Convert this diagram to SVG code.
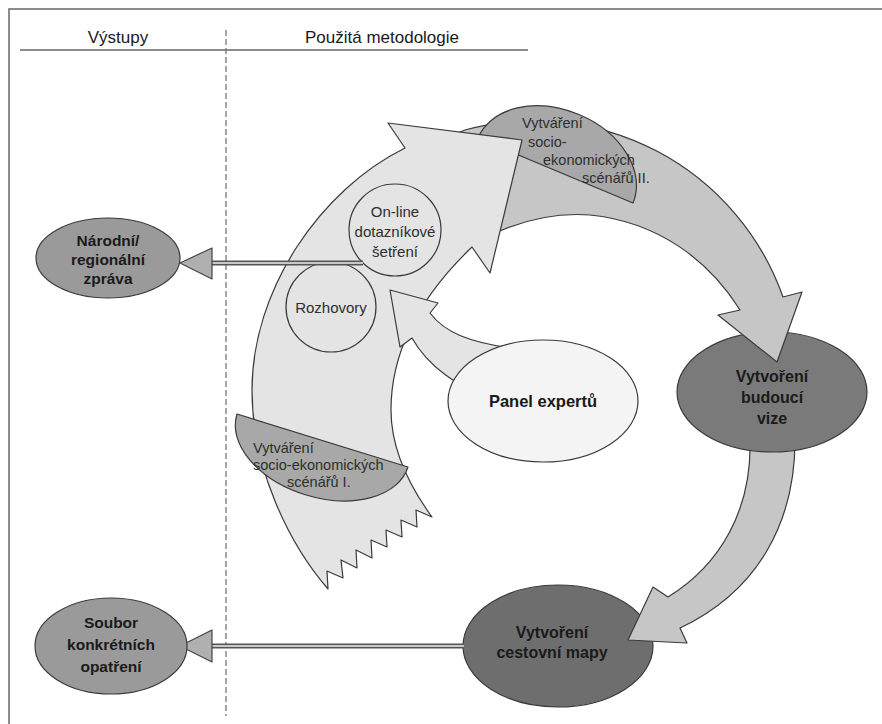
<svg xmlns="http://www.w3.org/2000/svg" width="882" height="724" viewBox="0 0 882 724">
<defs>
<style>
.ln{stroke:#3a3a3a;stroke-width:1.2;stroke-linejoin:round}
.big{fill:#e4e4e4}
.band{fill:#c6c6c6}
.semi{fill:#a8a8a8}
.bt{font-family:"Liberation Sans",Arial,sans-serif;font-weight:bold;fill:#1a1a1a;text-anchor:middle}
.rt{font-family:"Liberation Sans",Arial,sans-serif;fill:#2e2e2e;text-anchor:middle;font-size:15px}
.st{font-family:"Liberation Sans",Arial,sans-serif;fill:#2e2e2e;font-size:14.5px}
.hd{font-family:"Liberation Sans",Arial,sans-serif;fill:#1a1a1a;font-size:17px;text-anchor:middle}
.dl1{stroke:#555;stroke-width:5;fill:none}
.dl2{stroke:#c8c8c8;stroke-width:2;fill:none}
.ah{fill:#b0b0b0;stroke:#444;stroke-width:1.2;stroke-linejoin:round}
</style>
</defs>
<rect x="0" y="0" width="882" height="724" fill="#fff"/>
<rect x="9" y="9" width="890" height="730" fill="#fff" stroke="#666" stroke-width="1.5"/>
<g id="header">
<line x1="20" y1="50" x2="528" y2="50" stroke="#666" stroke-width="1.5"/>
<line x1="226" y1="30" x2="226" y2="716" stroke="#777" stroke-width="1.3" stroke-dasharray="6 3"/>
<text class="hd" x="118" y="43">Výstupy</text>
<text class="hd" x="382" y="43">Použitá metodologie</text>
</g>

<g id="cestovni-mapa">
<ellipse class="ln" cx="558" cy="646" rx="95" ry="61" fill="#6e6e6e"/>
<text class="bt" font-size="16" x="552" y="638">Vytvoření</text>
<text class="bt" font-size="16" x="552" y="658">cestovní mapy</text>
</g>

<g id="connectors">
<path class="ln band" d="M750,440 L795,440 C795,520 760,590 680,628 L687,643 L628,640 L653,587 L668,597 C720,565 752,510 750,440 Z" fill="#c2c2c2"/>
</g>

<g id="budouci-vize">
<ellipse class="ln" cx="772" cy="392" rx="95" ry="60" fill="#7a7a7a"/>
<text class="bt" font-size="16" x="772" y="382">Vytvoření</text>
<text class="bt" font-size="16" x="772" y="403">budoucí</text>
<text class="bt" font-size="16" x="772" y="424">vize</text>
</g>

<g id="arrow-band-top">
<path class="ln band" d="M440,140 L465,130 A264,264 0 0 1 783,297 L802,292 L777,362 L718,315 L740,310 C710,262 660,222 590,215 C550,212 515,222 480,240 Z"/>
</g>

<g id="scenare-II">
<path class="ln semi" d="M478,138 A83,60 22.8 0 1 633,203 Z"/>
</g>

<g id="big-arrow">
<path class="ln big" d="M405,148 L388,123 L522,140 L490,273 L472,247 C425,292 391,345 391,410 C391,445 405,480 432,517 L416,510 L417,527 L401,520 L402,537 L386,530 L387,547 L371,540 L372,558 L356,550 L357,568 L341,560 L343,578 L327,571 L328,589 C290,545 252,470 252,390 C252,290 320,190 405,148 Z"/>
</g>

<g id="scenare-II-text">
<text class="st" x="522" y="128">Vytváření</text>
<text class="st" x="528" y="147">socio-</text>
<text class="st" x="543" y="165">ekonomických</text>
<text class="st" x="582" y="183">scénářů II.</text>
</g>

<g id="scenare-I">
<path class="ln semi" d="M237,414 A88,56 17 0 0 408,467 Z"/>
<text class="st" x="253" y="453">Vytváření</text>
<text class="st" x="253" y="470">socio-ekonomických</text>
<text class="st" x="287" y="487">scénářů I.</text>
</g>

<g id="online">
<circle class="ln big" cx="395" cy="230" r="46"/>
<text class="rt" x="395" y="217">On-line</text>
<text class="rt" x="395" y="237">dotazníkové</text>
<text class="rt" x="395" y="257">šetření</text>
</g>

<g id="rozhovory">
<circle class="ln big" cx="331" cy="307" r="45"/>
<text class="rt" x="331" y="313">Rozhovory</text>
</g>

<g id="panel-arrow">
<path class="ln big" d="M390,290 L438,303 L430,313 C445,333 470,342 510,348 L480,395 C460,385 430,370 412,338 L400,347 Z"/>
</g>

<g id="panel-expertu">
<ellipse class="ln" cx="543" cy="401" rx="95" ry="61" fill="#f4f4f4"/>
<text class="bt" font-size="16.5" x="543" y="407">Panel expertů</text>
</g>

<g id="output-connectors">
<path class="dl1" d="M363,263 L211,263"/>
<path class="dl2" d="M363,263 L211,263"/>
<polygon class="ah" points="180,263 212,248 212,279"/>
<path class="dl1" d="M464,646 L211,646"/>
<path class="dl2" d="M464,646 L211,646"/>
<polygon class="ah" points="180,646 212,630 212,662"/>
</g>

<g id="narodni-zprava">
<ellipse class="ln" cx="108" cy="258" rx="72" ry="40" fill="#9a9a9a"/>
<text class="bt" font-size="15.5" x="108" y="246">Národní/</text>
<text class="bt" font-size="15.5" x="108" y="265">regionální</text>
<text class="bt" font-size="15.5" x="108" y="284">zpráva</text>
</g>

<g id="soubor-opatreni">
<ellipse class="ln" cx="111" cy="646" rx="76" ry="48" fill="#9a9a9a"/>
<text class="bt" font-size="15.5" x="111" y="628">Soubor</text>
<text class="bt" font-size="15.5" x="111" y="650">konkrétních</text>
<text class="bt" font-size="15.5" x="111" y="672">opatření</text>
</g>
</svg>
